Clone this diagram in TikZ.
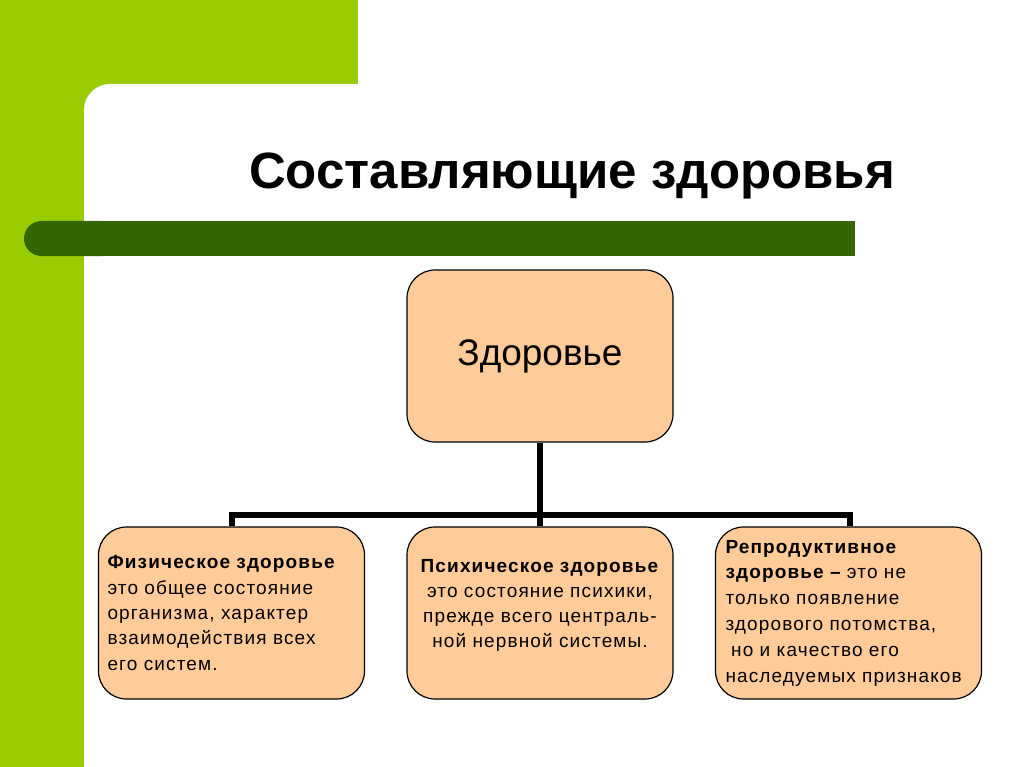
\documentclass[tikz,border=0pt]{standalone}
\usepackage{fontspec}
\setmainfont{Liberation Sans}
\newfontfamily\spacedfont[LetterSpace=6]{Liberation Sans}
\definecolor{lime}{HTML}{99CC00}
\definecolor{darkbar}{HTML}{336600}
\definecolor{peach}{HTML}{FFCC99}
\tikzset{
  box/.style={draw=black, line width=1.2pt, fill=peach, rounded corners=28pt,
    minimum width=266pt, minimum height=172pt, inner sep=0pt},
  small/.style={font=\spacedfont\fontsize{19}{25.3}\selectfont},
  smallwide/.style={font=\spacedfont\fontsize{19}{25.8}\selectfont},
  conn/.style={line width=6pt, draw=black}
}
\begin{document}
\begin{tikzpicture}[x=1pt,y=-1pt]
\useasboundingbox (0,0) rectangle (1024,767);
\fill[white] (0,0) rectangle (1024,767);
% lime frame
\fill[lime] (0,0) rectangle (358,84);
\fill[lime] (0,0) rectangle (84,767);
\fill[lime] (84,84) rectangle (120,120);
\fill[white, rounded corners=26pt] (84,84) rectangle (400,300);
% dark bar
\fill[darkbar, rounded corners=17.5pt] (24,221) rectangle (120,256);
\fill[darkbar] (70,221) rectangle (855,256);
% title
\node[anchor=base, font=\fontsize{51}{60}\selectfont\bfseries] (title) at (572,189) {Составляющие здоровья};
% boxes
\node[box, font=\fontsize{37}{44}\selectfont] (top) at (540,356) {Здоровье};
\node[box, small, align=left, text width=248pt] (phys) at (231.5,613)
 {\textbf{Физическое здоровье}\\это общее состояние\\организма, характер\\взаимодействия всех\\его систем.};
\node[box, small, align=center, text width=260pt] (psy) at (540,613)
 {\textbf{Психическое здоровье}\\это состояние психики,\\прежде всего централь-\\ной нервной системы.\\[-6.3pt]\mbox{}};
\node[box, smallwide, align=left, text width=246pt] (repr) at (848.5,613)
 {\textbf{Репродуктивное}\\\textbf{здоровье –} это не\\только появление\\здорового потомства,\\\hspace*{0.3em}но и качество его\\наследуемых признаков};
% connectors
\coordinate (j) at (540,515);
\draw[conn] (top.south) -- (j);
\draw[conn] (j) -- (psy.north);
\draw[conn] (j) -| ([xshift=0.5pt]phys.north);
\draw[conn] (j) -| ([xshift=1.5pt]repr.north);
\end{tikzpicture}
\end{document}
